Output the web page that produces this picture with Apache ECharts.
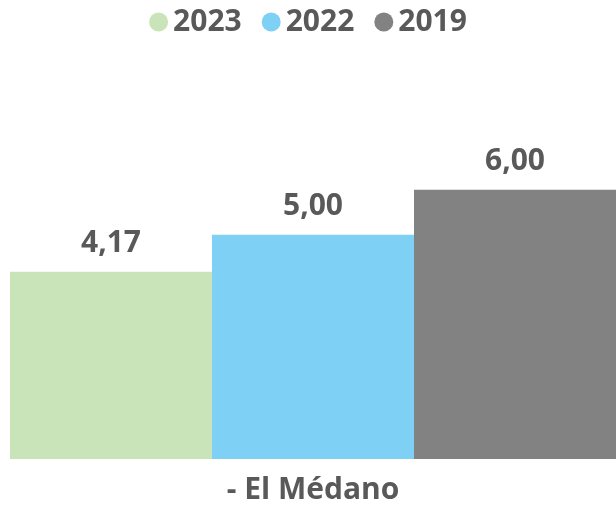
<!DOCTYPE html>
<html>
<head>
<meta charset="utf-8">
<script src="https://cdn.jsdelivr.net/npm/echarts@6/dist/echarts.min.js"></script>
<style>
  html, body { margin: 0; padding: 0; background: #fff; }
  #chart { width: 616px; height: 505px; }
</style>
</head>
<body>
<div id="chart"></div>
<script>
  var categories = ['- El Médano'];
  var seriesNames = ['2023', '2022', '2019'];
  var values2023 = [4.17];
  var values2022 = [5.00];
  var values2019 = [6.00];
  var colors = ['#c9e4b8', '#7fd0f5', '#828282'];

  var font = '"Open Sans", "Noto Sans", sans-serif';
  var textColor = '#595959';

  function makeSeries (name, data, color) {
    return {
      name: name,
      type: 'bar',
      data: data,
      itemStyle: { color: color },
      barGap: '0%',
      barCategoryGap: '0%',
      label: {
        show: true,
        position: 'top',
        distance: 13,
        color: textColor,
        fontFamily: font,
        fontWeight: 'bold',
        fontSize: 30,
        formatter: function (p) {
          return p.value.toFixed(2).replace('.', ',');
        }
      }
    };
  }

  var myChart = echarts.init(document.getElementById('chart'));
  myChart.setOption({
    animation: false,
    color: colors,
    legend: {
      top: 2,
      left: 'center',
      icon: 'circle',
      itemWidth: 19,
      itemHeight: 19,
      itemGap: 20,
      textStyle: {
        color: textColor,
        fontFamily: font,
        fontWeight: 'bold',
        fontSize: 30
      },
      data: seriesNames
    },
    grid: {
      left: 10,
      right: 0,
      top: 100,
      bottom: 42
    },
    xAxis: {
      type: 'category',
      data: categories,
      axisLine: { show: false },
      axisTick: { show: false },
      axisLabel: {
        margin: 16,
        color: textColor,
        fontFamily: font,
        fontWeight: 'bold',
        fontSize: 30
      }
    },
    yAxis: {
      type: 'value',
      min: 0,
      max: 8,
      show: false,
      splitLine: { show: false }
    },
    series: [
      makeSeries(seriesNames[0], values2023, colors[0]),
      makeSeries(seriesNames[1], values2022, colors[1]),
      makeSeries(seriesNames[2], values2019, colors[2])
    ]
  });
</script>
</body>
</html>
